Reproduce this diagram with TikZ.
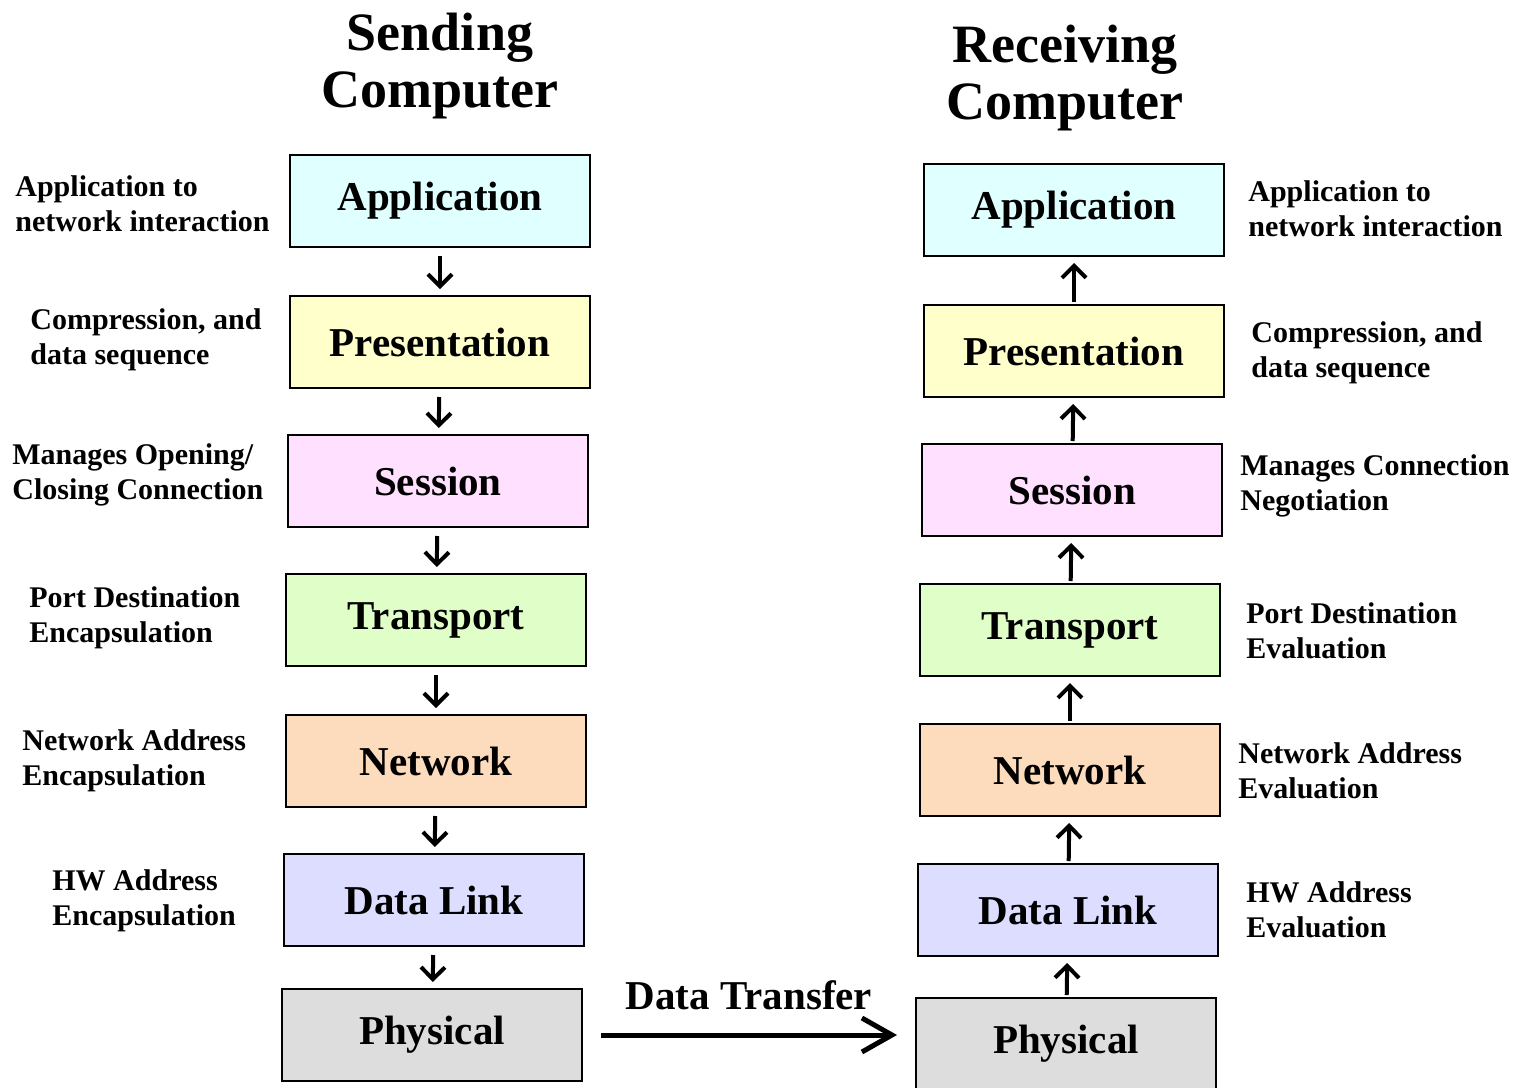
\documentclass[tikz,border=0pt]{standalone}
\usepackage{fontspec}
\setmainfont{Liberation Serif}
\usetikzlibrary{arrows.meta}

\definecolor{appcol}{RGB}{224,255,255}
\definecolor{precol}{RGB}{255,255,204}
\definecolor{sescol}{RGB}{255,224,255}
\definecolor{tracol}{RGB}{224,255,200}
\definecolor{netcol}{RGB}{253,220,190}
\definecolor{dlcol}{RGB}{221,221,255}
\definecolor{phycol}{RGB}{221,221,221}

\begin{document}
\begin{tikzpicture}[x=0.5pt,y=-0.5pt,
    layer/.style={draw,line width=1pt,minimum width=150pt,minimum height=46pt,inner sep=0pt,
      font=\fontsize{20.5}{24}\selectfont\bfseries},
    note/.style={anchor=west,align=left,inner sep=0pt,font=\fontsize{15}{17.5}\selectfont\bfseries},
    heading/.style={align=center,inner sep=0pt,font=\fontsize{27}{28.5}\selectfont\bfseries},
    down/.style={-{Straight Barb[length=6pt,width=12pt]},line width=2pt,shorten <=4pt,shorten >=3pt},
    up/.style={-{Straight Barb[length=6pt,width=12pt]},line width=2pt,shorten <=1pt,shorten >=3pt}]
  \clip (0,0) rectangle (1528,1088);

  % sending side
  \node[heading] (stitle) at (440,66) {Sending\\Computer};
  \node[layer,fill=appcol] (sapp) at (440,201) {Application};
  \node[layer,fill=precol] (spre) at (440,342) {Presentation};
  \node[layer,fill=sescol] (sses) at (438,481) {Session};
  \node[layer,fill=tracol] (stra) at (436,620) {Transport};
  \node[layer,fill=netcol] (snet) at (436,761) {Network};
  \node[layer,fill=dlcol]  (sdl)  at (434,900) {Data Link};
  \node[layer,fill=phycol] (sphy) at (432,1035) {Physical};

  \node[note] (sn1) at (15,204) {Application to\\network interaction};
  \node[note] (sn2) at (30,340) {Compression, and\\data sequence};
  \node[note] (sn3) at (12,475) {Manages Opening/\\Closing Connection};
  \node[note] (sn4) at (29,618) {Port Destination\\Encapsulation};
  \node[note] (sn5) at (22,761) {Network Address\\Encapsulation};
  \node[note] (sn6) at (52,901) {HW Address\\Encapsulation};

  \draw[down] (sapp) -- (spre);
  \draw[down] (spre) -- (sses);
  \draw[down] (sses) -- (stra);
  \draw[down] (stra) -- (snet);
  \draw[down] (snet) -- (sdl);
  \draw[down] (sdl) -- (sphy);

  % receiving side
  \node[heading] (rtitle) at (1065,78) {Receiving\\Computer};
  \node[layer,fill=appcol] (rapp) at (1074,210) {Application};
  \node[layer,fill=precol] (rpre) at (1074,351) {Presentation};
  \node[layer,fill=sescol] (rses) at (1072,490) {Session};
  \node[layer,fill=tracol] (rtra) at (1070,630) {Transport};
  \node[layer,fill=netcol] (rnet) at (1070,770) {Network};
  \node[layer,fill=dlcol]  (rdl)  at (1068,910) {Data Link};
  \node[layer,fill=phycol] (rphy) at (1066,1044) {Physical};

  \node[note] (rn1) at (1248,209) {Application to\\network interaction};
  \node[note] (rn2) at (1251,353) {Compression, and\\data sequence};
  \node[note] (rn3) at (1240,486) {Manages Connection\\Negotiation};
  \node[note] (rn4) at (1246,631) {Port Destination\\Evaluation};
  \node[note] (rn5) at (1238,771) {Network Address\\Evaluation};
  \node[note] (rn6) at (1246,910) {HW Address\\Evaluation};

  \draw[up] (rphy) -- (rdl);
  \draw[up] (rdl) -- (rnet);
  \draw[up] (rnet) -- (rtra);
  \draw[up] (rtra) -- (rses);
  \draw[up] (rses) -- (rpre);
  \draw[up] (rpre) -- (rapp);

  % wire
  \draw[-{Straight Barb[length=15pt,width=17pt]},line width=2.5pt,shorten <=9pt,shorten >=9pt]
    (sphy.east) -- (sphy.east -| rphy.west)
    node[midway,above=8pt,font=\fontsize{20.5}{24}\selectfont\bfseries] (xfer) {Data Transfer};
\end{tikzpicture}
\end{document}
